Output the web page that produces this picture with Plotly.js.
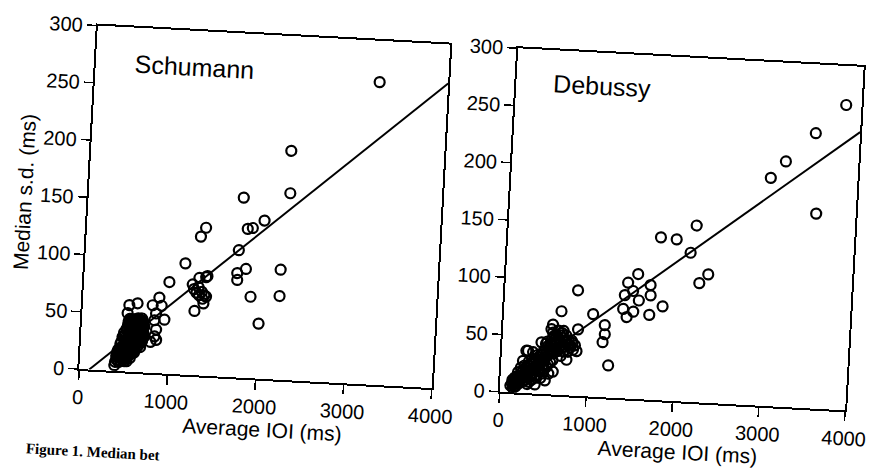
<!DOCTYPE html>
<html>
<head>
<meta charset="utf-8">
<script src="https://cdn.plot.ly/plotly-3.0.1.min.js"></script>
<style>
  html, body { margin: 0; padding: 0; background: #ffffff; overflow: hidden; width: 869px; height: 470px; }
  #plot { position: absolute; left: 0; top: 0; width: 900px; height: 510px;
          transform: rotate(3.09deg); transform-origin: 434.5px 235px; }
</style>
</head>
<body>
<div id="plot"></div>
<script>
// ---- Data ----
const xTickVals = [0, 1000, 2000, 3000, 4000];
const yTickVals = [0, 50, 100, 150, 200, 250, 300];

// Schumann: average IOI (ms) and median s.d. (ms)
const schumannIOI = [
  3224, 2266, 2281, 1757, 2006, 1821, 1878, 1349, 1296, 1733, 1825, 2218, 1729, 1733,
  1380, 1394, 1304, 1894, 2222, 2001, 1365, 1137, 967, 1232, 1268,
  1250, 1280, 1310, 1340, 1370, 1300, 1350, 1390,
  863, 792, 528, 620, 513, 894, 835, 820, 933, 845, 830, 788, 852, 394,
  400, 430, 460, 490, 520, 550,
  420, 450, 480, 510, 540, 570, 600,
  450, 480, 510, 540, 570, 600, 630, 660, 690,
  470, 500, 530, 560, 590, 620, 650, 680, 710,
  510, 540, 570, 600, 630, 660, 690, 710,
  530, 560, 590, 620, 650, 680, 700,
  415, 445, 475, 505, 535, 565,
  435, 465, 495, 525, 555, 585, 615,
  465, 495, 525, 555, 585, 615, 645, 675,
  485, 515, 545, 575, 605, 635, 665, 695,
  525, 555, 585, 615, 645, 675, 700,
  545, 575, 605, 635, 665, 690,
  410, 440, 470, 500, 530,
  430, 460, 490, 520, 550, 580, 610,
  460, 490, 520, 550, 580, 610, 640, 670,
  480, 510, 540, 570, 600, 630, 660, 690, 705,
  520, 550, 580, 610, 640, 670, 695,
  540, 570, 600, 630, 660, 685
];
const schumannSD = [
  264, 200, 163, 157, 138, 130, 131, 129, 121, 111, 95, 96, 91, 85,
  86, 87, 85, 71, 73, 48, 63, 97, 80, 79, 56,
  75, 72, 70, 73, 70, 77, 67, 69,
  66, 59, 58, 60, 51, 59, 52, 46, 47, 38, 32, 27, 29, 5,
  8, 12, 9, 13, 11, 14,
  17, 19, 16, 18, 17, 19, 18,
  24, 22, 26, 23, 25, 22, 26, 24, 27,
  30, 32, 29, 33, 30, 32, 29, 33, 31,
  37, 39, 36, 40, 37, 39, 36, 40,
  44, 46, 43, 46, 44, 47, 43,
  10, 14, 11, 9, 13, 12,
  15, 18, 20, 15, 20, 16, 20,
  21, 25, 27, 21, 27, 23, 27, 22,
  34, 28, 34, 28, 34, 28, 34, 28,
  41, 35, 41, 35, 41, 35, 38,
  42, 45, 42, 47, 42, 45,
  13, 8, 13, 12, 9,
  19, 15, 17, 20, 16, 19, 17,
  26, 23, 21, 26, 23, 25, 22, 26,
  31, 30, 31, 31, 29, 31, 31, 30, 34,
  38, 38, 38, 38, 38, 38, 41,
  46, 43, 46, 43, 46, 43
];
const schumannFitX = [113, 4000];
const schumannFitY = [0, 266];

// Debussy: average IOI (ms) and median s.d. (ms)
const debussyIOI = [
  3822, 3489, 3161, 2997, 3543, 2171, 1766, 1949, 2118, 2335, 2237, 1526, 1415, 1676,
  1385, 1478, 1550, 1683, 1828, 1679, 1374, 1492, 1419, 1172, 1178, 1157, 1236,
  842, 664, 1031, 866, 862, 751, 283, 302, 361, 452, 574, 559, 593, 626, 514,
  120, 150, 170, 190, 210, 230, 250, 260, 280, 300, 310, 330, 340, 360, 370, 390,
  400, 420, 430, 450, 460, 470, 490, 500, 510, 530, 540, 560, 570, 590, 600, 620,
  640, 660, 680, 700, 720, 740, 760, 780, 800, 820, 250, 200, 150, 330, 400, 480,
  550, 600,
  135, 160, 180, 200, 220, 240, 265, 290, 315, 345, 375, 410, 440, 465, 485, 515,
  545, 575, 605, 635, 665, 695, 725, 755, 790, 270, 320, 355, 380, 420, 445, 520,
  580, 640, 700,
  140, 165, 185, 205, 225, 245, 275, 285, 305, 325, 350, 365, 385, 405, 415, 435,
  455, 475, 495, 505, 525, 535, 555, 565, 585, 595, 615, 625, 645, 655, 675, 685,
  710, 735, 765, 810, 840, 230
];
const debussySD = [
  266, 240, 214, 199, 170, 154, 142, 141, 130, 112, 104, 109, 101, 100,
  90, 94, 86, 91, 82, 74, 78, 76, 71, 63, 55, 48, 28,
  92, 73, 72, 58, 39, 31, 37, 37, 36, 45, 61, 57, 51, 44, 12,
  6, 10, 5, 12, 8, 15, 10, 20, 14, 22, 8, 18, 26, 12, 22, 30,
  16, 26, 20, 34, 14, 28, 38, 22, 32, 42, 26, 36, 48, 30, 44, 52,
  38, 46, 34, 50, 42, 48, 38, 44, 48, 40, 28, 18, 4, 10, 8, 18,
  18, 20,
  8, 7, 9, 11, 12, 14, 16, 18, 20, 16, 18, 22, 24, 30, 26, 36,
  40, 38, 48, 44, 52, 42, 46, 44, 42, 24, 28, 30, 26, 34, 28, 46,
  54, 56, 56,
  11, 13, 6, 15, 9, 18, 11, 22, 14, 24, 20, 28, 22, 30, 14, 32,
  20, 36, 30, 44, 24, 34, 44, 28, 42, 36, 46, 40, 50, 40, 46, 54,
  38, 52, 48, 46, 44, 22
];
const debussyFitX = [100, 4000];
const debussyFitY = [10, 243];

const panelLabels = ["Schumann", "Debussy"];
const xTitle = "Average IOI (ms)";
const yTitle = "Median s.d. (ms)";
const caption = "Figure 1. Median bet";

// ---- Styling ----
const sans = "Liberation Sans, Arial, Helvetica, sans-serif";
const markerStyle = { symbol: "circle-open", size: 10, color: "#000000", line: { width: 2.2, color: "#000000" } };
const lineStyle = { color: "#000000", width: 2 };

const traces = [
  { type: "scatter", mode: "markers", x: schumannIOI, y: schumannSD, xaxis: "x", yaxis: "y",
    marker: markerStyle, hoverinfo: "skip" },
  { type: "scatter", mode: "lines", x: schumannFitX, y: schumannFitY, xaxis: "x", yaxis: "y",
    line: lineStyle, hoverinfo: "skip" },
  { type: "scatter", mode: "markers", x: debussyIOI, y: debussySD, xaxis: "x2", yaxis: "y2",
    marker: markerStyle, hoverinfo: "skip" },
  { type: "scatter", mode: "lines", x: debussyFitX, y: debussyFitY, xaxis: "x2", yaxis: "y2",
    line: lineStyle, hoverinfo: "skip" }
];

function axisBase() {
  return {
    showline: true, mirror: true, linecolor: "#000000", linewidth: 2,
    ticks: "outside", ticklen: 9, tickwidth: 1.5, tickcolor: "#000000",
    showgrid: false, zeroline: false, fixedrange: true,
    tickfont: { family: sans, size: 20, color: "#000000" }
  };
}

const layout = {
  width: 900, height: 510,
  margin: { l: 87, r: 46, t: 44, b: 122 },
  paper_bgcolor: "#ffffff", plot_bgcolor: "#ffffff",
  showlegend: false,
  xaxis: Object.assign(axisBase(), { domain: [0, 0.4602], range: [0, 4000], tickvals: xTickVals, anchor: "y" }),
  yaxis: Object.assign(axisBase(), { domain: [0, 1], range: [0, 300], tickvals: yTickVals, anchor: "x" }),
  xaxis2: Object.assign(axisBase(), { domain: [0.5489, 1], range: [0, 4000], tickvals: xTickVals, anchor: "y2" }),
  yaxis2: Object.assign(axisBase(), { domain: [0, 1], range: [0, 300], tickvals: yTickVals, anchor: "x2" }),
  annotations: [
    { text: panelLabels[0], xref: "x", yref: "y", x: 418, y: 269, xanchor: "left", yanchor: "middle",
      showarrow: false, font: { family: sans, size: 25, color: "#000000" } },
    { text: panelLabels[1], xref: "x2", yref: "y2", x: 408, y: 271, xanchor: "left", yanchor: "middle",
      showarrow: false, font: { family: sans, size: 25, color: "#000000" } },
    { text: yTitle, xref: "paper", yref: "paper", x: -0.0831, y: 0.506, xanchor: "center", yanchor: "middle",
      textangle: -90, showarrow: false, font: { family: sans, size: 21, color: "#000000" } },
    { text: xTitle, xref: "paper", yref: "paper", x: 0.2429, y: -0.148, xanchor: "center", yanchor: "middle",
      showarrow: false, font: { family: sans, size: 21, color: "#000000" } },
    { text: xTitle, xref: "paper", yref: "paper", x: 0.7846, y: -0.147, xanchor: "center", yanchor: "middle",
      showarrow: false, font: { family: sans, size: 21, color: "#000000" } },
    { text: "<b>" + caption + "</b>", xref: "paper", yref: "paper", x: -0.0666, y: -0.2674, xanchor: "left", yanchor: "bottom",
      showarrow: false, font: { family: "Liberation Serif, Times New Roman, serif", size: 15, color: "#000000" } }
  ]
};

Plotly.newPlot("plot", traces, layout, { staticPlot: true, displayModeBar: false });
</script>
</body>
</html>
